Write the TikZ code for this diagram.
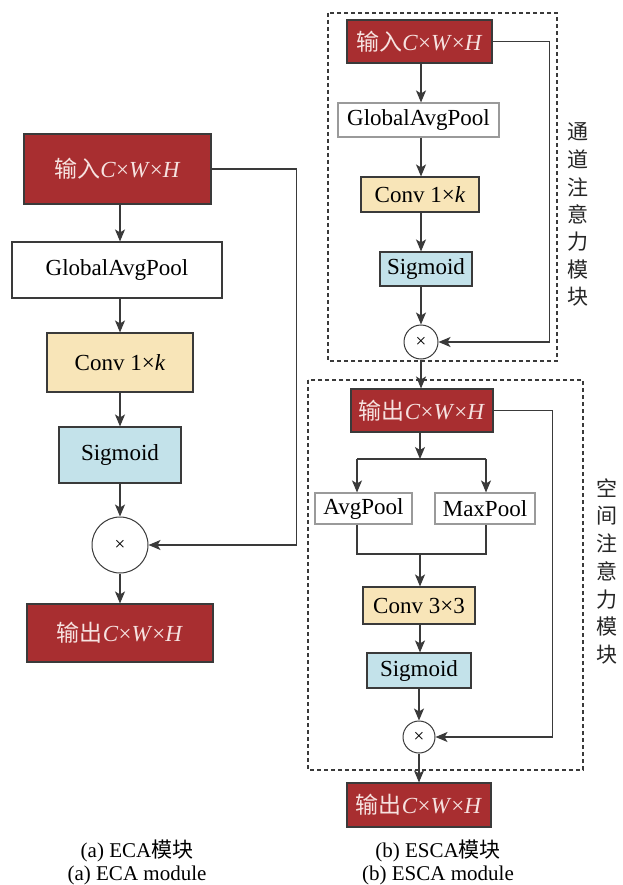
\documentclass[tikz,border=0pt]{standalone}
\usepackage{fontspec}
\setmainfont{Liberation Serif}
\newfontfamily\cjk{Noto Sans CJK SC}
\usetikzlibrary{arrows.meta}
\definecolor{redbox}{HTML}{A82E30}
\definecolor{redtext}{HTML}{F6E2E0}
\definecolor{yelbox}{HTML}{F8E5B8}
\definecolor{bluebox}{HTML}{C3E2EA}
\definecolor{edge}{HTML}{3A3A3A}
\definecolor{lightedge}{HTML}{9A9A9A}
\begin{document}
\begin{tikzpicture}[x=1pt,y=-1pt,
  base/.style={draw=edge,line width=1.1pt,inner sep=0pt,font=\fontsize{23}{26}\selectfont},
  redb/.style={base,fill=redbox,text=redtext},
  whiteb/.style={base,fill=white},
  lwhiteb/.style={base,draw=lightedge,fill=white},
  yelb/.style={base,fill=yelbox},
  blueb/.style={base,fill=bluebox},
  mulc/.style={circle,draw=edge,line width=1pt,fill=white,inner sep=0pt,font=\fontsize{19}{20}\selectfont},
  arr/.style={draw=edge,line width=1.2pt,-{Stealth[length=12pt,width=10pt,inset=3pt]}},
  ln/.style={draw=edge,line width=1.2pt},
  dbox/.style={draw=edge,line width=1.2pt,dash pattern=on 4pt off 3pt},
  vtxt/.style={font=\fontsize{21}{21}\selectfont\cjk,text=black!85,inner sep=0pt},
  captxt/.style={font=\fontsize{21}{23}\selectfont,align=center,inner sep=0pt}
]
\useasboundingbox (0,0) rectangle (622,885);
\fill[white] (0,0) rectangle (622,885);

% ---------- (a) ECA ----------
\node[redb,minimum width=187pt,minimum height=70pt] (in1) at (117.5,169) {{\cjk 输入}\textit{C}×\textit{W}×\textit{H}};
\node[whiteb,minimum width=210pt,minimum height=56pt] (gap1) at (117,270) {GlobalAvgPool};
\node[yelb,minimum width=146pt,minimum height=59pt] (conv1) at (120,362.5) {Conv 1×\textit{k}};
\node[blueb,minimum width=122pt,minimum height=56pt] (sig1) at (120,455) {Sigmoid};
\node[mulc,minimum size=56pt] (mul1) at (120,545) {×};
\node[redb,minimum width=186pt,minimum height=58pt] (out1) at (120,633) {{\cjk 输出}\textit{C}×\textit{W}×\textit{H}};

\draw[arr] (in1.south -| mul1.center) -- (gap1.north -| mul1.center);
\draw[arr] (gap1.south -| mul1.center) -- (conv1.north -| mul1.center);
\draw[arr] (conv1.south -| mul1.center) -- (sig1.north -| mul1.center);
\draw[arr] (sig1.south -| mul1.center) -- (mul1.north);
\draw[arr] (mul1.south) -- (out1.north -| mul1.center);
\draw[arr] (in1.east) -- ++(85,0) |- (mul1.east);

\node[captxt] (capa) at (137,862) {(a) ECA{\cjk 模块}\\(a) ECA module};

% ---------- (b) ESCA: channel part ----------
\draw[dbox] (328,13) rectangle (557,361);
\node[redb,minimum width=145pt,minimum height=43pt] (in2) at (419.5,41.5) {{\cjk 输入}\textit{C}×\textit{W}×\textit{H}};
\node[lwhiteb,minimum width=161pt,minimum height=34pt] (gap2) at (418.5,120) {GlobalAvgPool};
\node[yelb,minimum width=118pt,minimum height=35pt] (conv2) at (420,194.5) {Conv 1×\textit{k}};
\node[blueb,minimum width=92pt,minimum height=34pt] (sig2) at (426,269) {Sigmoid};
\node[mulc,minimum size=34pt] (mul2) at (421,342) {×};

\draw[arr] (in2.south -| mul2.center) -- (gap2.north -| mul2.center);
\draw[arr] (gap2.south -| mul2.center) -- (conv2.north -| mul2.center);
\draw[arr] (conv2.south -| mul2.center) -- (sig2.north -| mul2.center);
\draw[arr] (sig2.south -| mul2.center) -- (mul2.north);
\draw[arr] (in2.east) -- ++(57,0) |- (mul2.east);

\foreach \c [count=\i from 0] in {通,道,注,意,力,模,块}
  \node[vtxt] (vt\i) at (578,132+27.5*\i) {\c};

% ---------- (b) ESCA: spatial part ----------
\draw[dbox] (308,380) rectangle (583,770);
\node[redb,minimum width=142pt,minimum height=43pt] (out2) at (422,410.5) {{\cjk 输出}\textit{C}×\textit{W}×\textit{H}};
\draw[arr] (mul2.south) -- (out2.north -| mul2.center);

\node[lwhiteb,minimum width=97pt,minimum height=31pt] (avg) at (363.5,508.5) {AvgPool};
\node[lwhiteb,minimum width=100pt,minimum height=31pt] (max) at (485,508.5) {MaxPool};
\node[yelb,minimum width=112pt,minimum height=37pt] (conv3) at (419,605.5) {Conv 3×3};
\node[blueb,minimum width=104pt,minimum height=35pt] (sig3) at (419,670.5) {Sigmoid};
\node[mulc,minimum size=32pt] (mul3) at (419,737) {×};
\node[redb,minimum width=144pt,minimum height=44pt] (out3) at (419,805) {{\cjk 输出}\textit{C}×\textit{W}×\textit{H}};

\coordinate (split) at (420,459);
\coordinate (sl) at (357,459);
\coordinate (sr) at (486,459);
\coordinate (ml) at (357,554);
\coordinate (mr) at (486,554);
\coordinate (merge) at (420,554);

\draw[arr] (out2.south -| split) -- (split);
\draw[ln] (sl) -- (sr);
\draw[arr] (sl) -- (avg.north -| sl);
\draw[arr] (sr) -- (max.north -| sr);
\draw[ln] (avg.south -| ml) -- (ml) -- (mr) -- (max.south -| mr);
\draw[arr] (merge) -- (conv3.north -| merge);
\draw[arr] (conv3.south -| merge) -- (sig3.north -| merge);
\draw[arr] (sig3.south -| mul3.center) -- (mul3.north);
\draw[arr] (mul3.south) -- (out3.north -| mul3.center);
\draw[arr] (out2.east) -- ++(59,0) |- (mul3.east);

\foreach \c [count=\i from 0] in {空,间,注,意,力,模,块}
  \node[vtxt] (vs\i) at (607,488+27.8*\i) {\c};

\node[captxt] (capb) at (438,862) {(b) ESCA{\cjk 模块}\\(b) ESCA module};
\end{tikzpicture}
\end{document}
